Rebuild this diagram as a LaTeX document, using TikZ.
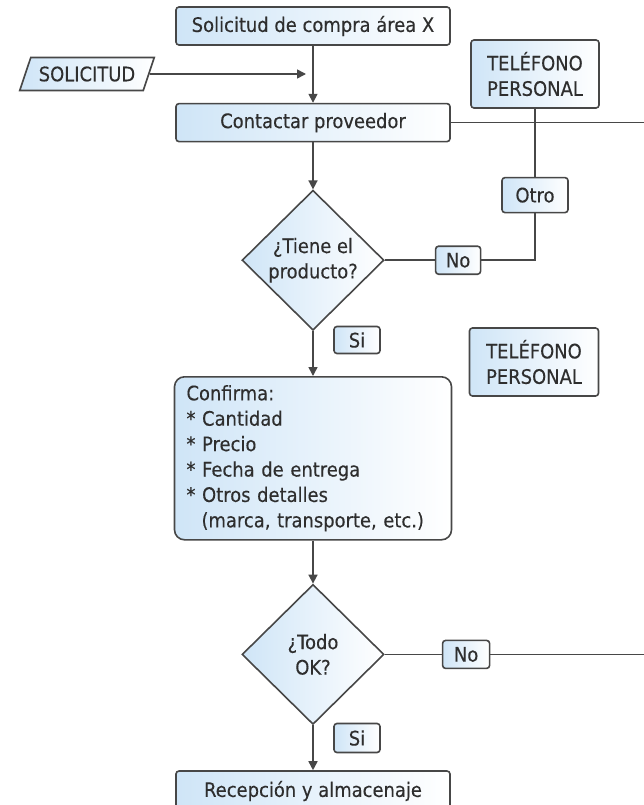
\documentclass[tikz,border=0pt]{standalone}
\usepackage{fontspec}
\setmainfont{DejaVu Sans}[FakeStretch=0.9, FakeBold=0.3]
\usetikzlibrary{arrows.meta, positioning, shapes.geometric}

\definecolor{boxblue}{HTML}{CFE5F7}
\definecolor{edgegray}{HTML}{474747}
\definecolor{txtgray}{HTML}{2E2E2E}

\begin{document}
\begin{tikzpicture}[
  x=1bp, y=-1bp,
  font=\fontsize{20}{25.5}\selectfont, text=txtgray,
  box/.style={draw=edgegray, line width=1.6bp, rounded corners=3bp, left color=boxblue, right color=white, align=center, minimum width=274bp, minimum height=38bp, inner sep=2bp},
  tag/.style={box, minimum width=45bp, minimum height=28bp},
  decision/.style={draw=edgegray, line width=1.6bp, diamond, aspect=1, left color=boxblue, right color=white, align=center, minimum width=142bp, minimum height=140bp, inner sep=0pt},
  inbox/.style={draw=edgegray, line width=1.6bp, trapezium, trapezium left angle=60, trapezium right angle=120, trapezium stretches=true, left color=boxblue, right color=white, minimum height=33bp, inner xsep=8bp, inner ysep=2bp},
  arr/.style={-{Triangle[length=9bp,width=9bp]}, line width=1.6bp, draw=edgegray},
  link/.style={line width=1.6bp, draw=edgegray}
]
\useasboundingbox (0,0) rectangle (644,805);
% main column
\node[box] (start) at (313,26) {Solicitud de compra área X};
\node[box, below=57bp of start] (contact) {Contactar proveedor};
\node[decision, below=47bp of contact] (hasprod) {¿Tiene el\\producto?};
\node[box, rounded corners=10bp, below=45bp of hasprod, minimum width=277bp, minimum height=163bp, text width=253bp, align=left] (confirm) {Confirma:\\{*} Cantidad\\{*} Precio\\{*} Fecha de entrega\\{*} Otros detalles\\\hspace*{15bp}(marca, transporte, etc.)};
\node[decision, below=43bp of confirm] (allok) {¿Todo\\OK?};
\node[box, below=45bp of allok, minimum height=40bp] (store) {Recepción y almacenaje};
% side nodes
\node[inbox] (request) at (87,74) {SOLICITUD};
\node[box, minimum width=128bp, minimum height=68bp] (phoneA) at (535,74) {TELÉFONO\\PERSONAL};
\node[tag, below=68bp of phoneA, minimum width=66bp, minimum height=35bp] (other) {Otro};
\node[tag, right=50bp of hasprod] (noA) {No};
\node[tag, minimum width=46bp, minimum height=27bp] (yesA) at (357,340) {Si};
\node[box, minimum width=129bp, minimum height=68bp] (phoneB) at (534,362) {TELÉFONO\\PERSONAL};
\node[tag, right=57bp of allok, minimum width=47bp] (noB) {No};
\node[tag, minimum width=46bp, minimum height=29bp] (yesB) at (357,738) {Si};
\coordinate (edgeA) at (644,121);
\coordinate (edgeB) at (644,648);
% connectors
\draw[arr] (start) -- (contact);
\draw[arr, shorten >=7bp] (request) -- (request -| start);
\draw[link] (contact.east) -- (contact.east -| edgeA);
\draw[link] (phoneA) -- (other);
\draw[link] (other.south) |- (noA.east);
\draw[link] (noA) -- (hasprod.east);
\draw[arr] (contact) -- (hasprod);
\draw[arr] (hasprod) -- (confirm);
\draw[arr] (confirm) -- (allok);
\draw[link] (allok.east) -- (noB);
\draw[link] (noB.east) -- (noB.east -| edgeB);
\draw[arr] (allok) -- (store);
\end{tikzpicture}
\end{document}
